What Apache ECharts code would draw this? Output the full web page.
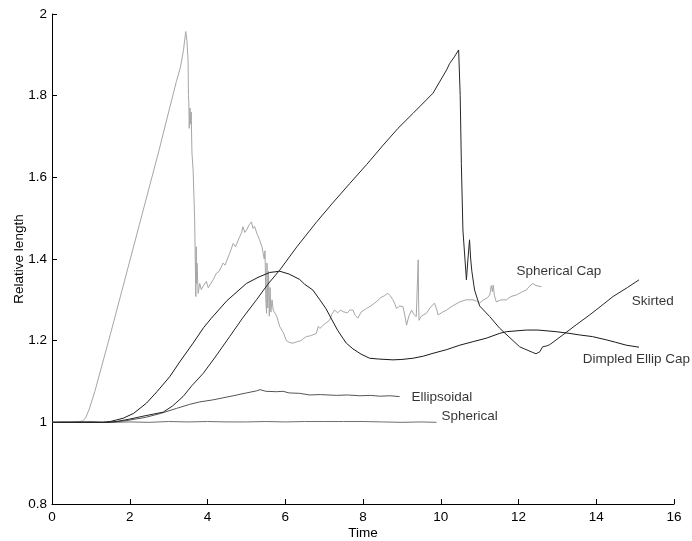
<!DOCTYPE html>
<html>
<head>
<meta charset="utf-8">
<script src="https://cdn.jsdelivr.net/npm/echarts@6/dist/echarts.min.js"></script>
<style>
html,body{margin:0;padding:0;background:#fff;}
#c{width:692px;height:541px;}
</style>
</head>
<body>
<div id="c"></div>
<script>
// ---- Data (time, relative length) ----
var xTicks = [0, 2, 4, 6, 8, 10, 12, 14, 16];
var yTicks = [0.8, 1, 1.2, 1.4, 1.6, 1.8, 2];

var sphericalCap = [
  [0,1],[0.3,1.001],[0.5,1.0],[0.7,1.002],[0.78,1.003],[0.86,1.01],[0.95,1.03],[1.1,1.075],
  [1.3,1.145],[1.5,1.215],[1.75,1.305],[2.0,1.395],[2.25,1.485],[2.5,1.575],[2.75,1.665],
  [3.0,1.76],[3.2,1.835],[3.3,1.868],[3.38,1.91],[3.44,1.957],[3.47,1.935],
  [3.50,1.887],[3.51,1.80],[3.52,1.781],[3.53,1.72],[3.55,1.77],[3.57,1.73],[3.58,1.76],
  [3.60,1.66],[3.63,1.618],[3.67,1.496],[3.70,1.308],[3.71,1.43],[3.72,1.34],[3.73,1.39],
  [3.76,1.316],[3.80,1.34],[3.84,1.325],[3.88,1.332],[3.97,1.345],[4.02,1.33],[4.06,1.332],
  [4.15,1.35],[4.23,1.365],[4.3,1.37],[4.40,1.39],[4.45,1.385],[4.57,1.414],[4.62,1.41],
  [4.66,1.438],[4.72,1.43],[4.83,1.455],[4.88,1.465],[4.91,1.479],[4.96,1.465],[5.0,1.47],
  [5.08,1.485],[5.13,1.491],[5.17,1.475],[5.21,1.48],[5.28,1.46],[5.34,1.447],[5.40,1.43],
  [5.43,1.43],[5.46,1.40],[5.48,1.42],[5.50,1.30],[5.52,1.267],[5.53,1.39],[5.55,1.28],
  [5.57,1.37],[5.59,1.26],[5.61,1.33],[5.63,1.27],[5.66,1.30],[5.69,1.275],[5.78,1.26],
  [5.86,1.234],[5.95,1.22],[6.03,1.20],[6.12,1.195],[6.2,1.194],[6.29,1.197],[6.4,1.2],
  [6.54,1.21],[6.65,1.212],[6.8,1.218],[6.85,1.235],[6.89,1.23],[7.0,1.24],[7.14,1.25],
  [7.2,1.265],[7.27,1.275],[7.35,1.268],[7.42,1.275],[7.49,1.271],[7.6,1.268],[7.66,1.275],
  [7.74,1.275],[7.8,1.262],[7.87,1.255],[7.95,1.27],[8.09,1.279],[8.2,1.285],[8.34,1.295],
  [8.45,1.305],[8.55,1.31],[8.64,1.316],[8.7,1.31],[8.77,1.30],[8.82,1.29],[8.86,1.279],
  [8.95,1.285],[9.03,1.283],[9.08,1.26],[9.12,1.238],[9.18,1.26],[9.25,1.275],[9.3,1.265],
  [9.37,1.259],[9.40,1.26],[9.42,1.398],[9.43,1.30],[9.44,1.25],[9.5,1.26],[9.63,1.267],
  [9.72,1.28],[9.84,1.292],[9.9,1.275],[9.93,1.263],[10.05,1.27],[10.15,1.275],[10.3,1.285],
  [10.49,1.295],[10.65,1.3],[10.83,1.3],[10.92,1.297],[11.0,1.292],[11.1,1.3],[11.2,1.305],
  [11.26,1.312],[11.30,1.335],[11.33,1.32],[11.35,1.336],[11.38,1.31],[11.43,1.295],
  [11.55,1.3],[11.69,1.3],[11.8,1.308],[11.95,1.312],[12.1,1.32],[12.2,1.324],[12.3,1.335],
  [12.37,1.34],[12.45,1.335],[12.59,1.332]
];

var skirted = [
  [0,1],[0.5,1.0],[1.0,1.0],[1.4,1.0],[1.66,1.002],[2.0,1.008],[2.34,1.015],[2.86,1.025],
  [3.1,1.04],[3.37,1.063],[3.6,1.09],[3.89,1.12],[4.2,1.16],[4.57,1.21],[4.9,1.255],
  [5.26,1.30],[5.55,1.338],[5.86,1.373],[6.3,1.43],[6.8,1.49],[7.2,1.535],[7.66,1.585],
  [8.1,1.632],[8.52,1.679],[8.9,1.72],[9.29,1.757],[9.8,1.806],[10.15,1.863],[10.23,1.879],
  [10.35,1.895],[10.46,1.912],[10.50,1.80],[10.53,1.634],[10.57,1.471],[10.66,1.349],
  [10.70,1.40],[10.74,1.447],[10.77,1.40],[10.80,1.37],[10.87,1.324],[11.0,1.285],
  [11.26,1.259],[11.52,1.23],[11.86,1.2],[12.03,1.185],[12.15,1.18],[12.37,1.171],
  [12.45,1.168],[12.55,1.173],[12.62,1.185],[12.72,1.187],[12.8,1.19],[13.14,1.214],
  [13.5,1.24],[13.83,1.263],[14.1,1.283],[14.43,1.308],[14.8,1.33],[15.1,1.349]
];

var dimpledEllipCap = [
  [0,1],[0.5,1.0],[1.0,1.001],[1.3,1.0],[1.5,1.002],[1.83,1.01],[2.1,1.022],[2.43,1.047],
  [2.7,1.075],[3.03,1.112],[3.3,1.15],[3.63,1.194],[3.9,1.232],[4.1,1.255],[4.5,1.298],
  [5.0,1.34],[5.3,1.355],[5.6,1.367],[5.86,1.37],[6.1,1.363],[6.37,1.35],[6.5,1.338],
  [6.71,1.324],[6.89,1.30],[7.05,1.278],[7.19,1.253],[7.35,1.225],[7.49,1.205],[7.57,1.194],
  [7.74,1.18],[7.95,1.167],[8.17,1.157],[8.4,1.155],[8.77,1.153],[9.0,1.154],[9.29,1.157],
  [9.55,1.162],[9.8,1.169],[10.15,1.178],[10.49,1.189],[10.85,1.198],[11.17,1.206],
  [11.52,1.218],[11.69,1.222],[12.2,1.226],[12.5,1.226],[12.97,1.222],[13.3,1.218],
  [13.57,1.214],[13.9,1.21],[14.26,1.202],[14.5,1.196],[14.77,1.189],[15.1,1.184]
];

var ellipsoidal = [
  [0,1],[1.0,1.0],[1.5,1.0],[1.9,1.004],[2.4,1.012],[2.8,1.022],[3.2,1.034],[3.54,1.044],
  [3.8,1.05],[4.14,1.055],[4.4,1.06],[4.66,1.065],[5.0,1.072],[5.26,1.077],[5.35,1.08],
  [5.5,1.076],[5.77,1.075],[5.94,1.076],[6.1,1.072],[6.37,1.071],[6.63,1.067],[6.9,1.068],
  [7.32,1.066],[7.6,1.067],[7.92,1.065],[8.2,1.066],[8.43,1.064],[8.7,1.065],[8.94,1.063]
];

var spherical = [
  [0,1],[0.5,1.001],[1,1.0],[1.5,1.0],[2,1.001],[2.5,1.0],[3,1.002],[3.5,1.001],[4,1.002],
  [4.5,1.001],[5,1.001],[5.5,1.002],[6,1.001],[6.5,1.002],[7,1.002],[7.5,1.002],[8,1.002],
  [8.5,1.001],[9,1.0],[9.5,1.001],[9.89,1.0]
];

// label anchors (left edge, vertical middle) in data coordinates
var labelNames = ["Spherical Cap", "Skirted", "Dimpled Ellip Cap", "Ellipsoidal", "Spherical"];
var labelPos = [[11.95, 1.371], [14.91, 1.297], [13.65, 1.155], [9.245, 1.061], [10.02, 1.016]];

var FONT = 'Liberation Sans, Arial, sans-serif';

function lineSeries(name, data, color) {
  return {
    name: name, type: 'line', data: data, showSymbol: false, symbol: 'none',
    lineStyle: { color: color, width: 1 }, itemStyle: { color: color },
    silent: true, animation: false
  };
}

var chart = echarts.init(document.getElementById('c'), null, { renderer: 'canvas' });
chart.setOption({
  animation: false,
  backgroundColor: '#ffffff',
  grid: { left: 52, right: 18, top: 14, bottom: 37, containLabel: false, outerBoundsMode: 'none' },
  xAxis: {
    type: 'value', min: xTicks[0], max: xTicks[xTicks.length - 1], interval: 2,
    name: 'Time', nameLocation: 'middle', nameGap: 22, nameMoveOverlap: false,
    nameTextStyle: { color: '#000', fontSize: 13.5, fontFamily: FONT },
    axisLine: { show: true, lineStyle: { color: '#000', width: 1 } },
    axisTick: { show: true, inside: true, length: 5, lineStyle: { color: '#000' } },
    axisLabel: { color: '#000', fontSize: 13.5, fontFamily: FONT, margin: 6 },
    splitLine: { show: false }
  },
  yAxis: {
    type: 'value', min: yTicks[0], max: yTicks[yTicks.length - 1], interval: 0.2,
    name: 'Relative length', nameLocation: 'middle', nameGap: 26, nameRotate: 90,
    nameMoveOverlap: false,
    nameTextStyle: { color: '#000', fontSize: 13.5, fontFamily: FONT },
    axisLine: { show: true, lineStyle: { color: '#000', width: 1 } },
    axisTick: { show: true, inside: true, length: 5, lineStyle: { color: '#000' } },
    axisLabel: { color: '#000', fontSize: 13.5, fontFamily: FONT, margin: 5,
      formatter: function (v) { return String(+v.toFixed(1)); } },
    splitLine: { show: false }
  },
  series: [
    lineSeries('Spherical Cap', sphericalCap, '#a6a6a6'),
    lineSeries('Spherical', spherical, '#6e6e6e'),
    lineSeries('Ellipsoidal', ellipsoidal, '#555555'),
    lineSeries('Dimpled Ellip Cap', dimpledEllipCap, '#1a1a1a'),
    lineSeries('Skirted', skirted, '#262626'),
    {
      type: 'scatter', symbolSize: 0, silent: true, animation: false,
      data: labelPos.map(function (p, i) { return { value: p, name: labelNames[i] }; }),
      label: {
        show: true, position: 'right', distance: 0, color: '#000',
        fontSize: 13.5, fontFamily: FONT,
        formatter: function (p) { return p.name; }
      }
    }
  ]
});
</script>
</body>
</html>
